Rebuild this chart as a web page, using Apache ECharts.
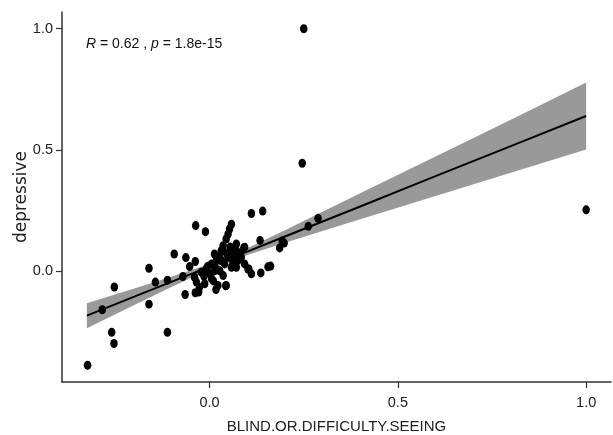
<!DOCTYPE html>
<html>
<head>
<meta charset="utf-8">
<script src="https://cdn.jsdelivr.net/npm/echarts@6/dist/echarts.min.js"></script>
<style>
html,body{margin:0;padding:0;background:#fff;}
#chart{width:613px;height:435px;}
</style>
</head>
<body>
<div id="chart"></div>
<script>
// Scatter points (BLIND.OR.DIFFICULTY.SEEING vs depressive)
const xVals = [
  -0.324, -0.260, -0.254, -0.285, -0.253, -0.161, -0.161, -0.144, -0.112, -0.112,
  -0.094, -0.063, -0.065, -0.037, -0.011, 0.017, 0.043, 0.111, 0.141, 0.136,
  0.155, 0.162, 0.134, 0.091, 0.186, 0.193, 0.198, 0.262, 0.288, 0.246,
  0.250, 1.000, 0.058, 0.053, 0.049, 0.044, 0.036, 0.031, 0.071, 0.071,
  0.093, 0.013, -0.038, -0.053, -0.071, -0.040, -0.035, -0.022, -0.009, 0.005,
  0.018, 0.027, 0.000, 0.013, -0.038, -0.029, -0.013, -0.027, 0.022, 0.031,
  0.040, 0.049, 0.062, 0.075, 0.084, 0.058, 0.071, 0.093, 0.102, 0.111,
  0.027, 0.036, 0.022, 0.044, 0.104, 0.005, -0.005, 0.015, 0.045, 0.060,
  0.080, 0.010, -0.015, 0.055, 0.065
];
const yVals = [
  -0.388, -0.252, -0.298, -0.159, -0.065, 0.012, -0.136, -0.045, -0.037, -0.252,
  0.071, 0.056, -0.096, 0.188, 0.163, -0.076, -0.060, 0.238, 0.248, -0.007,
  0.018, 0.021, 0.127, 0.097, 0.096, 0.125, 0.116, 0.185, 0.218, 0.445,
  1.000, 0.253, 0.194, 0.174, 0.153, 0.133, 0.105, 0.085, 0.112, 0.085,
  0.099, 0.071, 0.040, 0.019, -0.022, -0.025, -0.045, -0.004, 0.009, 0.030,
  0.044, 0.058, -0.011, 0.002, -0.089, -0.086, -0.052, -0.066, 0.058, 0.044,
  0.030, 0.058, 0.037, 0.044, 0.058, 0.016, 0.016, 0.030, 0.009, -0.011,
  0.002, -0.018, -0.059, -0.059, 0.009, -0.030, 0.020, 0.015, 0.075, 0.070,
  0.075, -0.040, -0.020, 0.100, 0.060
];

// Regression line and confidence band
const bandX     = [-0.326, -0.2, -0.1, 0.0, 0.1, 0.2, 0.4, 0.6, 0.8, 1.0];
const fitY      = [-0.183, -0.105, -0.043, 0.019, 0.081, 0.143, 0.267, 0.392, 0.516, 0.640];
const bandLower = [-0.235, -0.139, -0.064, 0.008, 0.067, 0.117, 0.214, 0.310, 0.406, 0.502];
const bandUpper = [-0.132, -0.071, -0.022, 0.030, 0.095, 0.169, 0.321, 0.473, 0.625, 0.778];

// Axis ticks
const xTicks = [0, 0.5, 1.0];
const yTicks = [0, 0.5, 1.0];

const xLabel = 'BLIND.OR.DIFFICULTY.SEEING';
const yLabel = 'depressive';
const statR = '0.62';
const statP = '1.8e-15';

const sans = "'Liberation Sans', Arial, sans-serif";

const chart = echarts.init(document.getElementById('chart'));
const axisCommon = {
  type: 'value',
  axisLine: { show: true, onZero: false, lineStyle: { color: '#333', width: 1.5 } },
  axisTick: { show: true, length: 6, lineStyle: { color: '#333', width: 1.2 } },
  splitLine: { show: false },
  axisLabel: { color: '#222', fontFamily: sans, fontSize: 14.5, formatter: v => v.toFixed(1) }
};

chart.setOption({
  animation: false,
  backgroundColor: '#fff',
  grid: { left: 62, right: 2, top: 12, bottom: 53, outerBoundsMode: 'none' },
  title: {
    left: 81, top: 32,
    text: '{i|R} = ' + statR + ' , {i|p} = ' + statP,
    textStyle: {
      fontFamily: sans, fontSize: 14, fontWeight: 'normal', color: '#111',
      rich: { i: { fontFamily: sans, fontSize: 14, fontStyle: 'italic', color: '#111' } }
    }
  },
  xAxis: Object.assign({}, axisCommon, {
    min: -0.392, max: 1.066,
    axisTick: Object.assign({}, axisCommon.axisTick, { customValues: xTicks }),
    axisLabel: Object.assign({}, axisCommon.axisLabel, { customValues: xTicks, margin: 13 }),
    name: xLabel, nameLocation: 'middle', nameGap: 37, nameMoveOverlap: false,
    nameTextStyle: { fontFamily: sans, fontSize: 15, color: '#222' }
  }),
  yAxis: Object.assign({}, axisCommon, {
    min: -0.457, max: 1.069,
    axisTick: Object.assign({}, axisCommon.axisTick, { customValues: yTicks }),
    axisLabel: Object.assign({}, axisCommon.axisLabel, { customValues: yTicks, margin: 9 }),
    name: yLabel, nameLocation: 'middle', nameGap: 32, nameMoveOverlap: false,
    nameTextStyle: { fontFamily: "'DejaVu Sans', sans-serif", fontSize: 17, color: '#222' }
  }),
  series: [
    {
      type: 'custom',
      silent: true,
      clip: true,
      data: bandX.map((x, i) => [x, bandLower[i], bandUpper[i]]),
      encode: { x: 0, y: [1, 2] },
      renderItem: function (params, api) {
        if (params.dataIndex !== 0) return null;
        const pts = [];
        for (let i = 0; i < bandX.length; i++) pts.push(api.coord([bandX[i], bandUpper[i]]));
        for (let i = bandX.length - 1; i >= 0; i--) pts.push(api.coord([bandX[i], bandLower[i]]));
        return { type: 'polygon', shape: { points: pts }, style: { fill: '#999999' } };
      },
      z: 1
    },
    {
      type: 'line',
      data: bandX.map((x, i) => [x, fitY[i]]),
      showSymbol: false,
      lineStyle: { color: '#000', width: 2 },
      silent: true,
      z: 2
    },
    {
      type: 'scatter',
      data: xVals.map((x, i) => [x, yVals[i]]),
      symbol: 'circle',
      symbolSize: [7.5, 9],
      itemStyle: { color: '#000', opacity: 1 },
      z: 3
    }
  ]
});
</script>
</body>
</html>
